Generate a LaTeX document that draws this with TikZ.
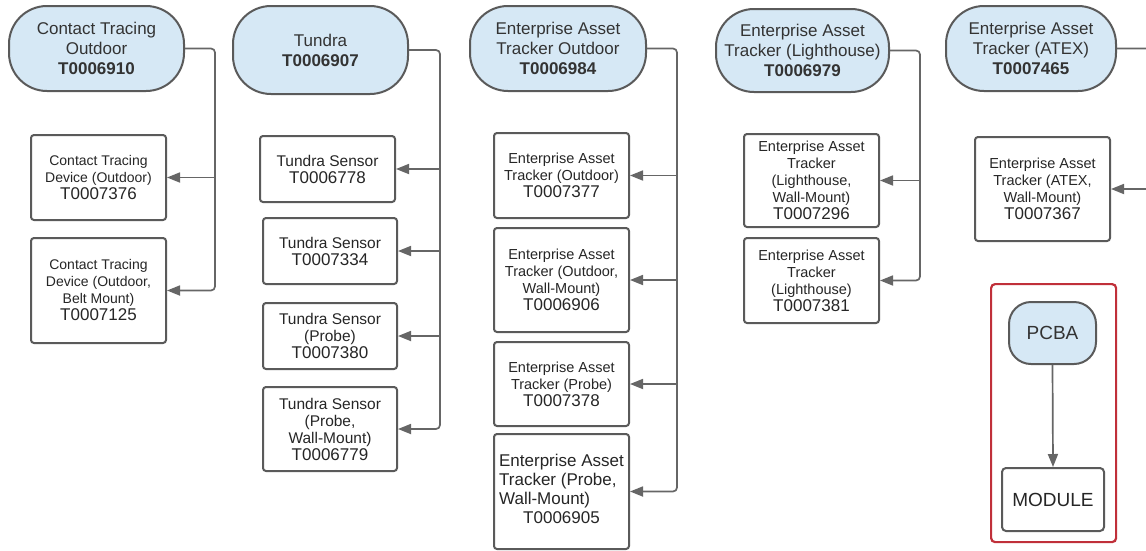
\documentclass[tikz,border=0pt]{standalone}
\usepackage{fontspec}
\setmainfont{Liberation Sans}
\usetikzlibrary{arrows.meta}
\definecolor{hdrfill}{HTML}{D6E8F5}
\definecolor{edgegray}{HTML}{5A5A5A}
\definecolor{wire}{HTML}{666666}
\definecolor{redframe}{HTML}{C0303A}
\newcommand{\idtxt}[1]{{\fontsize{17}{17}\selectfont #1}}
\begin{document}
\begin{tikzpicture}[x=1pt,y=-1pt,
  wh/.style 2 args={minimum width=#1pt, minimum height=#2pt},
  hdr/.style={draw=edgegray, line width=2pt, fill=hdrfill, rounded corners=38pt, align=center,
    font=\fontsize{17}{20}\selectfont, text=black!80, inner sep=0pt, anchor=north west},
  box/.style={draw=edgegray, line width=2pt, fill=white, rounded corners=3pt, align=center,
    font=\fontsize{14.5}{17}\selectfont, text=black!85, inner sep=0pt, anchor=north west},
  conn/.style={draw=wire, line width=1.7pt, rounded corners=4pt},
  arr/.style={conn, -{Triangle[length=13pt,width=10pt]}}]
\useasboundingbox (0,0) rectangle (1146,550);
\clip (0,0) rectangle (1146,550);
\fill[white] (0,0) rectangle (1146,550);

% bus coordinates
\coordinate (b1) at (215,0);
\coordinate (b2) at (440,0);
\coordinate (b3) at (677,0);
\coordinate (b4) at (920,0);
\coordinate (b5) at (1160,0);

% headers
\node[hdr, wh={175}{85}] (h1) at (8,5) {Contact Tracing\\Outdoor\\\textbf{T0006910}};
\node[hdr, wh={175}{88}] (h2) at (232,5) {Tundra\\\textbf{T0006907}};
\node[hdr, wh={176}{85}] (h3) at (469,5) {Enterprise Asset\\Tracker Outdoor\\\textbf{T0006984}};
\node[hdr, wh={173}{83}] (h4) at (715,8) {Enterprise Asset\\Tracker (Lighthouse)\\\textbf{T0006979}};
\node[hdr, wh={170}{85}] (h5) at (945,5) {Enterprise Asset\\Tracker (ATEX)\\\textbf{T0007465}};

% column 1
\node[box, wh={135}{85}, font=\fontsize{14}{17}\selectfont] (c11) at (30,134) {Contact Tracing\\Device (Outdoor)\\\idtxt{T0007376}};
\node[box, wh={135}{105}, font=\fontsize{14}{17}\selectfont] (c12) at (30,237) {Contact Tracing\\Device (Outdoor,\\Belt Mount)\\\idtxt{T0007125}};

% column 2
\node[box, wh={135}{66}, font=\fontsize{15.5}{17}\selectfont] (c21) at (259,135) {Tundra Sensor\\\idtxt{T0006778}};
\node[box, wh={134}{66}, font=\fontsize{15.5}{17}\selectfont] (c22) at (262,217) {Tundra Sensor\\\idtxt{T0007334}};
\node[box, wh={134}{66}, font=\fontsize{15.5}{17}\selectfont] (c23) at (262,302) {Tundra Sensor\\(Probe)\\\idtxt{T0007380}};
\node[box, wh={134}{84}, font=\fontsize{15.5}{17}\selectfont] (c24) at (262,386) {Tundra Sensor\\(Probe,\\Wall-Mount)\\\idtxt{T0006779}};

% column 3
\node[box, wh={135}{85}] (c31) at (493,132) {Enterprise Asset\\Tracker (Outdoor)\\\idtxt{T0007377}};
\node[box, wh={135}{104}] (c32) at (493,227) {Enterprise Asset\\Tracker (Outdoor,\\Wall-Mount)\\\idtxt{T0006906}};
\node[box, wh={135}{84}] (c33) at (493,341) {Enterprise Asset\\Tracker (Probe)\\\idtxt{T0007378}};
\node[box, wh={135}{115}, font=\fontsize{17}{19}\selectfont] (c34) at (493,433)
  {\begin{tabular}{@{}l@{}}Enterprise Asset\\Tracker (Probe,\\Wall-Mount)\\\multicolumn{1}{@{}c@{}}{T0006905}\end{tabular}};

% column 4
\node[box, wh={135}{93}] (c41) at (743,133) {Enterprise Asset\\Tracker\\(Lighthouse,\\Wall-Mount)\\\idtxt{T0007296}};
\node[box, wh={135}{85}] (c42) at (743,237) {Enterprise Asset\\Tracker\\(Lighthouse)\\\idtxt{T0007381}};

% column 5
\node[box, wh={135}{104}] (c51) at (974,136) {Enterprise Asset\\Tracker (ATEX,\\Wall-Mount)\\\idtxt{T0007367}};

% red group
\node[draw=redframe, line width=2.2pt, rounded corners=4pt, wh={125}{258}, anchor=north west, inner sep=0pt] (grp) at (990,283) {};
\node[hdr, wh={87}{62}, rounded corners=22pt, font=\fontsize{19}{22}\selectfont] (pcba) at (1008,301) {PCBA};
\node[box, wh={102}{63}, rounded corners=4pt, font=\fontsize{19}{22}\selectfont] (module) at (1001,467) {MODULE};

% connectors
\draw[arr] (h1.east) -| (b1 |- c12.east) -- (c12.east);
\draw[arr] (b1 |- c11.east) -- (c11.east);

\draw[arr] (h2.east) -| (b2 |- c24.east) -- (c24.east);
\draw[arr] (b2 |- c21.east) -- (c21.east);
\draw[arr] (b2 |- c22.east) -- (c22.east);
\draw[arr] (b2 |- c23.east) -- (c23.east);

\draw[arr] (h3.east) -| (b3 |- c34.east) -- (c34.east);
\draw[arr] (b3 |- c31.east) -- (c31.east);
\draw[arr] (b3 |- c32.east) -- (c32.east);
\draw[arr] (b3 |- c33.east) -- (c33.east);

\draw[arr] (h4.east) -| (b4 |- c42.east) -- (c42.east);
\draw[arr] (b4 |- c41.east) -- (c41.east);

\draw[arr] (h5.east) -| (b5 |- c51.east) -- (c51.east);

\draw[arr] (pcba.south) -- (module.north);
\end{tikzpicture}
\end{document}
